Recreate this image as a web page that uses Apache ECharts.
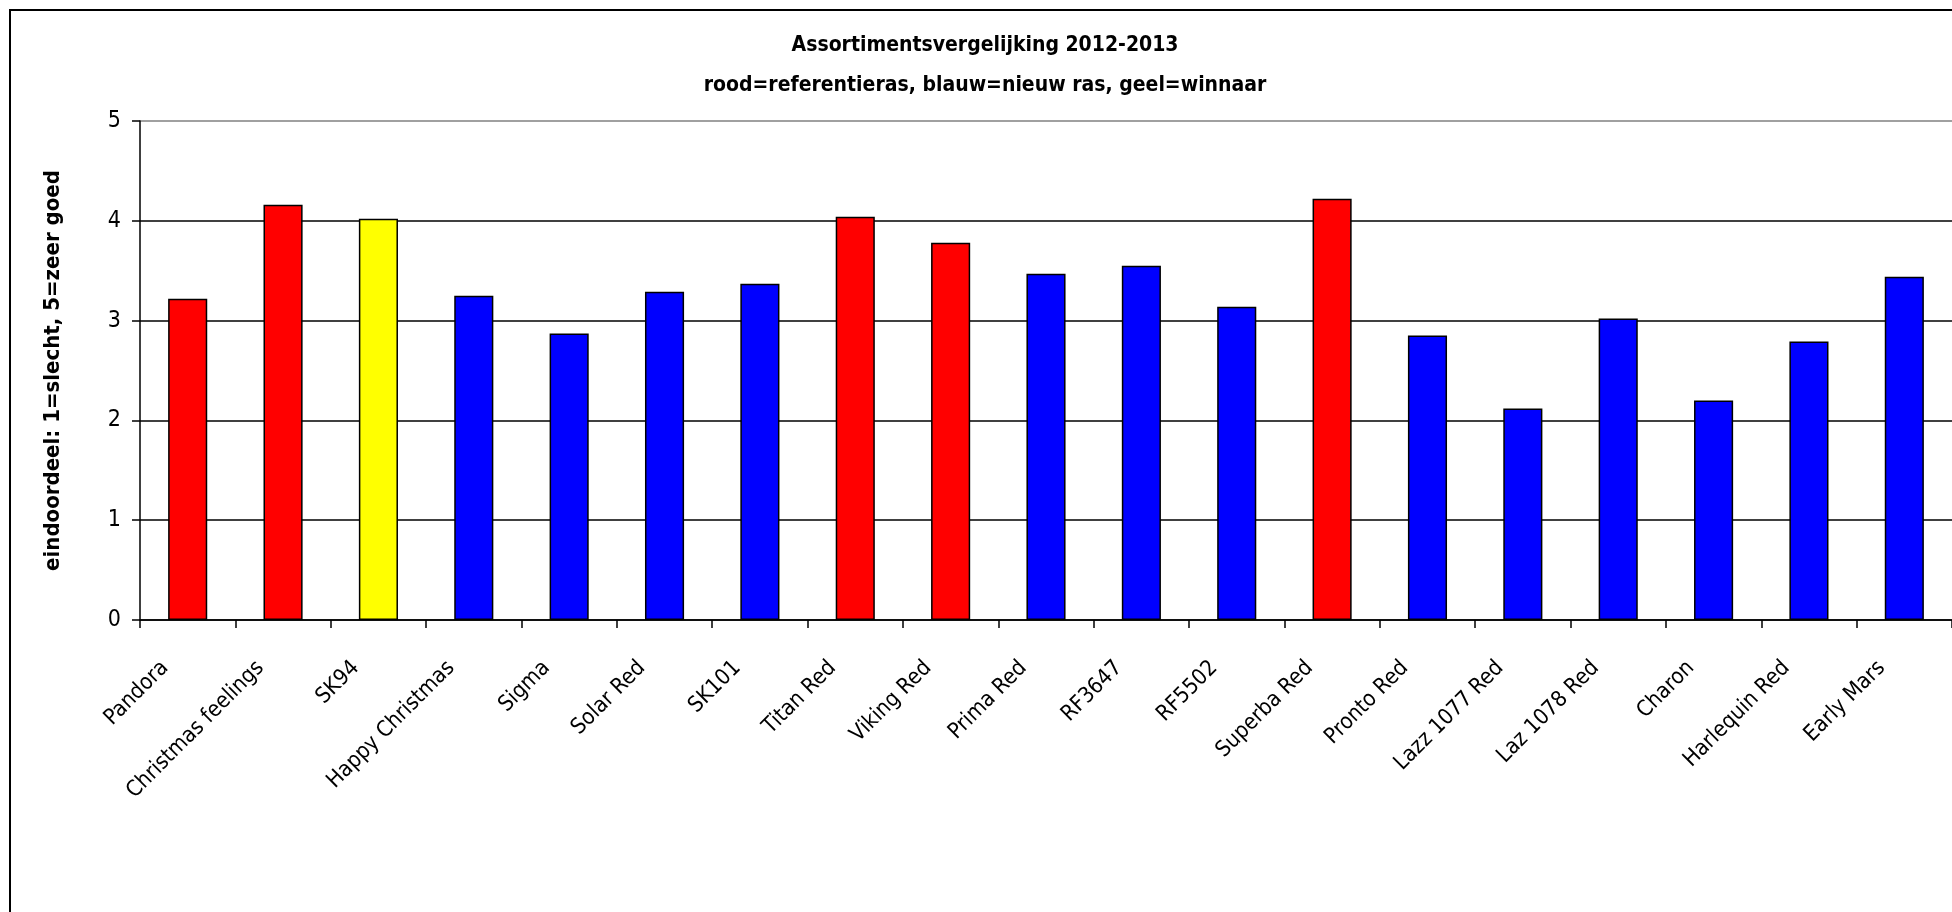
<!DOCTYPE html>
<html>
<head>
<meta charset="utf-8">
<script src="https://cdn.jsdelivr.net/npm/echarts@6/dist/echarts.min.js"></script>
<style>
html,body{margin:0;padding:0;background:#fff;}
#chart{width:1952px;height:912px;}
</style>
</head>
<body>
<div id="chart"></div>
<script>
const titleLine1 = 'Assortimentsvergelijking 2012-2013';
const titleLine2 = 'rood=referentieras, blauw=nieuw ras, geel=winnaar';
const yAxisName = 'eindoordeel: 1=slecht, 5=zeer goed';
const categories = ['Pandora','Christmas feelings','SK94','Happy Christmas','Sigma','Solar Red','SK101','Titan Red','Viking Red','Prima Red','RF3647','RF5502','Superba Red','Pronto Red','Lazz 1077 Red','Laz 1078 Red','Charon','Harlequin Red','Early Mars'];
const scores = [3.22,4.16,4.02,3.25,2.87,3.29,3.37,4.04,3.78,3.47,3.55,3.14,4.22,2.85,2.12,3.02,2.20,2.79,3.44];
const groups = ['referentie','referentie','winnaar','nieuw','nieuw','nieuw','nieuw','referentie','referentie','nieuw','nieuw','nieuw','referentie','nieuw','nieuw','nieuw','nieuw','nieuw','nieuw'];
const yTicks = [0,1,2,3,4,5];

const groupColor = {referentie:'#FF0000', nieuw:'#0000FF', winnaar:'#FFFF00'};
const FONT = '"DejaVu Sans Condensed","DejaVu Sans",sans-serif';

const chart = echarts.init(document.getElementById('chart'), null, {renderer:'canvas'});
chart.setOption({
  animation:false,
  backgroundColor:'#fff',
  textStyle:{fontFamily:FONT},
  graphic:[{type:'rect', z:-10, silent:true,
    shape:{x:10,y:10,width:2100,height:1100},
    style:{fill:'none', stroke:'#000', lineWidth:2}}],
  title:[
    {text:titleLine1, left:985, top:35, textAlign:'center', padding:0,
     textStyle:{fontFamily:FONT, fontSize:21, fontWeight:'bold', color:'#000'}},
    {text:titleLine2, left:985, top:75, textAlign:'center', padding:0,
     textStyle:{fontFamily:FONT, fontSize:21, fontWeight:'bold', color:'#000'}}
  ],
  grid:{left:140, top:121, right:-8, bottom:292, containLabel:false, show:false},
  xAxis:{
    type:'category', data:categories,
    axisLine:{show:true, lineStyle:{color:'#000', width:1.5}},
    axisTick:{show:true, length:8, inside:false, alignWithLabel:false, lineStyle:{color:'#000', width:1.5}},
    axisLabel:{interval:0, rotate:45, margin:22, fontSize:22, color:'#000', fontFamily:FONT, padding:[0,32,0,0]},
    splitLine:{show:false}
  },
  yAxis:{
    type:'value', min:yTicks[0], max:yTicks[yTicks.length-1], interval:1,
    name:yAxisName, nameLocation:'middle', nameRotate:90, nameGap:76,
    nameTextStyle:{fontFamily:FONT, fontSize:22, fontWeight:'bold', color:'#000'},
    axisLine:{show:true, lineStyle:{color:'#000', width:1.5}},
    axisTick:{show:true, length:8, lineStyle:{color:'#000', width:1.5}},
    axisLabel:{fontSize:23, color:'#000', margin:19, fontFamily:FONT},
    splitLine:{show:true, lineStyle:{color:['#000','#000','#000','#000','#000','#808080'], width:1.5}}
  },
  series:[{
    type:'bar', barWidth:'41%',
    data:scores.map((v,i)=>({value:v, itemStyle:{color:groupColor[groups[i]]}})),
    itemStyle:{borderColor:'#000', borderWidth:1.5}
  }]
});
</script>
</body>
</html>
